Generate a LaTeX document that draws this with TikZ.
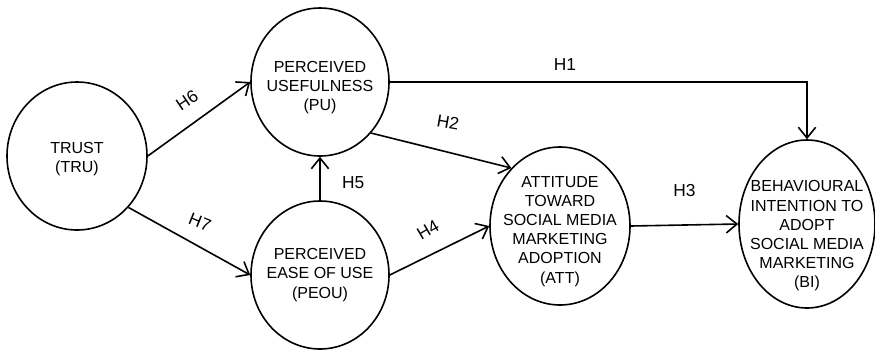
\documentclass[tikz,border=0pt]{standalone}
\usepackage{fontspec}
\setmainfont{Liberation Sans}
\usetikzlibrary{shapes.geometric,arrows.meta}

\tikzset{every picture/.style={line width=1.2pt}}
\tikzset{
  construct/.style={draw, ellipse, inner sep=0pt},
  cname/.style={align=center, inner sep=0pt, font=\fontsize{12}{14.4}\selectfont},
  hyp/.style={inner sep=0pt, font=\fontsize{13}{15}\selectfont},
  link/.style={-{Straight Barb[length=8pt,width=13pt]}}
}

\begin{document}
\begin{tikzpicture}[x=0.75pt,y=0.75pt,yscale=-1,xscale=1]
\useasboundingbox (0,0) rectangle (875,351);

%Shape: Ellipse [TRU]
\node [construct, minimum width=105pt, minimum height=111pt,
  label={[cname, yshift=-2pt]center:TRUST\\(TRU)}] (tru) at (77,156) {};
%Shape: Ellipse [PU]
\node [construct, minimum width=103.5pt, minimum height=111pt,
  label={[cname, yshift=-4pt]center:PERCEIVED\\USEFULNESS\\(PU)}] (pu) at (320,82) {};
%Shape: Ellipse [PEOU]
\node [construct, minimum width=103.5pt, minimum height=111pt,
  label={[cname]center:PERCEIVED\\EASE OF USE\\(PEOU)}] (peou) at (320,275) {};
%Shape: Ellipse [ATT]
\node [construct, minimum width=105pt, minimum height=118.5pt,
  label={[cname, yshift=-4pt]center:ATTITUDE\\TOWARD\\SOCIAL MEDIA\\MARKETING\\ADOPTION\\(ATT)}] (att) at (560,226) {};
%Shape: Ellipse [BI]
\node [construct, minimum width=102pt, minimum height=126pt,
  label={[cname, yshift=-9pt]center:BEHAVIOURAL\\INTENTION TO\\ADOPT\\SOCIAL MEDIA\\MARKETING\\(BI)}] (bi) at (807,224) {};

%Straight Lines [H1 - H7]
\draw [link] (pu.east) -| node [hyp, pos=0.21, above=8pt] (h1) {H1} (bi.north);
\draw [link] (pu.-45) -- (att.130);
\draw [link] (att.east) -- node [hyp, above=21pt] (h3) {H3} (bi.west);
\draw [link] (peou.east) -- (att.west);
\draw [link] (peou.north) -- node [hyp, pos=0.4, right=16pt] (h5) {H5} (pu.south);
\draw [link] (tru.east) -- (pu.west);
\draw [link] (tru.-45) -- (peou.west);

% Text Node
\node [hyp, rotate=-10] (h2) at (448,122) {H2};
% Text Node
\node [hyp, rotate=30] (h4) at (428,230) {H4};
% Text Node
\node [hyp, rotate=34] (h6) at (187,100) {H6};
% Text Node
\node [hyp, rotate=-22] (h7) at (200,222) {H7};

\end{tikzpicture}
\end{document}
